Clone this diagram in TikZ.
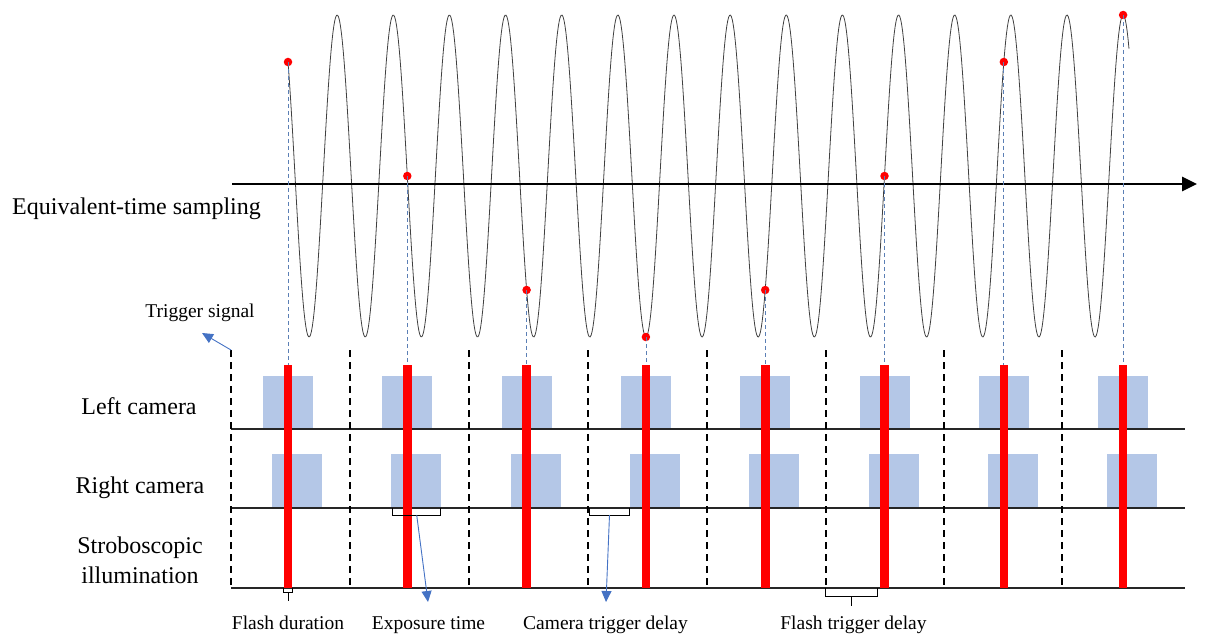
\documentclass[tikz,border=0pt]{standalone}
\usepackage{fontspec}
\setmainfont{Liberation Serif}
\usetikzlibrary{arrows.meta}
\definecolor{boxblue}{HTML}{B4C7E7}
\definecolor{arrblue}{HTML}{4472C4}
\definecolor{guideblue}{HTML}{5B7FB5}
\definecolor{wavegray}{HTML}{404040}
\tikzset{
  biglabel/.style={font=\fontsize{24}{28}\selectfont, inner sep=0pt, anchor=base},
  smalllabel/.style={font=\fontsize{19.5}{22}\selectfont, inner sep=0pt, anchor=base},
  divider/.style={black, line width=1.8pt, dash pattern=on 7pt off 5pt},
  rowline/.style={black!85, line width=1.1pt},
  guide/.style={guideblue, line width=0.8pt, dash pattern=on 4pt off 3pt},
  flash/.style={fill=red},
  exposure/.style={fill=boxblue},
  sampledot/.style={circle, fill=red, inner sep=0pt, minimum size=8.5pt},
  callout/.style={arrblue, line width=0.9pt, -{Triangle[length=11pt,width=10pt]}},
  bracketline/.style={black, line width=0.9pt},
}
\begin{document}
\begin{tikzpicture}[x=1pt,y=-1pt]
\useasboundingbox (0,0) rectangle (1209,644);

% exposure boxes
\foreach \c in {288,407.3,526.6,645.9,765.2,884.5,1003.8,1123.1}{
  \fill[exposure] (\c-25,376) rectangle (\c+25,429);
  \fill[exposure] (\c-16,454) rectangle (\c+34,508);
}

% sine wave
\draw[wavegray, line width=0.8pt] plot[domain=288:1129, samples=900]
  (\x, {176-161*cos(6.41254*(\x-1123.1))});

% axis
\coordinate (axL) at (232,184);
\coordinate (axR) at (1197,184);
\draw[black, line width=2.6pt, -{Triangle[length=15pt,width=14pt]}] (axL) -- (axR);

% row lines
\coordinate (r1L) at (231,429); \coordinate (r1R) at (1185,429);
\coordinate (r2L) at (231,508); \coordinate (r2R) at (1185,508);
\coordinate (r3L) at (231,588); \coordinate (r3R) at (1185,588);
\draw[rowline] (r1L) -- (r1R);
\draw[rowline] (r2L) -- (r2R);
\draw[rowline] (r3L) -- (r3R);

% dividers
\foreach \x [count=\i] in {231,350,469,588,707,826,944,1062}{
  \coordinate (dT\i) at (\x,350);
  \coordinate (dB\i) at (\x,588);
  \draw[divider] (dT\i) -- (dB\i);
}

% sample dots, guides and flash bars
\foreach \c/\yy [count=\i] in {288/62,407.3/176,526.6/290,645.9/337,765.2/290,884.5/176,1003.8/62,1123.1/15}{
  \node[sampledot] (s\i) at (\c,\yy) {};
  \coordinate (b\i) at (\c,365);
  \draw[guide] (s\i.center) -- (b\i);
  \fill[flash] (\c-4.3,365) rectangle (\c+4.3,588);
}

% trigger signal
\node[smalllabel] (trig) at (200,317) {Trigger signal};
\coordinate (trigtip) at (202,333);
\draw[callout] (dT1) -- (trigtip);

% labels
\node[biglabel, anchor=base west] (ets) at (12,215) {Equivalent-time sampling};
\node[biglabel] (lc) at (139,414) {Left camera};
\node[biglabel] (rc) at (140,493) {Right camera};
\node[biglabel] (st1) at (140,553) {Stroboscopic};
\node[biglabel] (st2) at (140,583) {illumination};

% flash duration bracket
\coordinate (fd) at (288,601);
\draw[bracketline] (283.5,588) -- (283.5,592) -- (292.5,592) -- (292.5,588);
\draw[bracketline] (288,592) -- (fd);
\node[smalllabel] (fdl) at (288,629) {Flash duration};

% exposure time bracket
\coordinate (et) at (416.7,515);
\coordinate (ettip) at (428,602);
\draw[bracketline] (392.7,508) -- (392.7,515) -- (440.7,515) -- (440.7,508);
\draw[callout] (et) -- (ettip);
\node[smalllabel] (etl) at (428.5,629) {Exposure time};

% camera trigger delay bracket
\coordinate (ctd) at (609.5,515);
\coordinate (ctdtip) at (606,602);
\draw[bracketline] (589,508) -- (589,515) -- (629.5,515) -- (629.5,508);
\draw[callout] (ctd) -- (ctdtip);
\node[smalllabel] (ctdl) at (605.5,629) {Camera trigger delay};

% flash trigger delay bracket
\coordinate (ftd) at (851.7,606);
\draw[bracketline] (825.7,588) -- (825.7,596) -- (877.3,596) -- (877.3,588);
\draw[bracketline] (851.7,596) -- (ftd);
\node[smalllabel] (ftdl) at (853.5,629) {Flash trigger delay};
\end{tikzpicture}
\end{document}
